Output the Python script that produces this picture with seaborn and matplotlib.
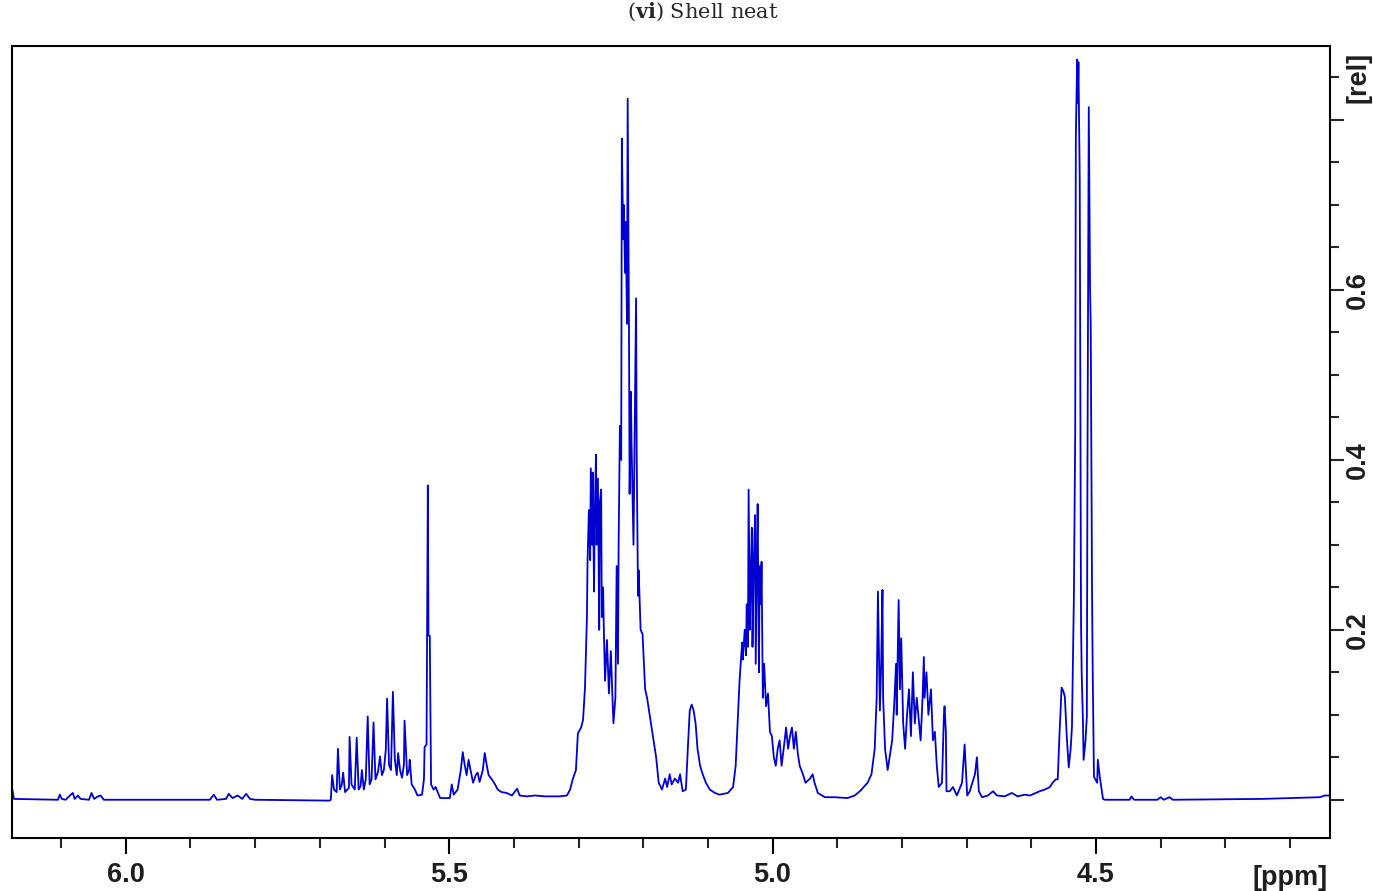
import numpy as np
import pandas as pd
import matplotlib
matplotlib.use("Agg")
import matplotlib.pyplot as plt
import seaborn as sns
from matplotlib.ticker import MultipleLocator, FixedLocator

# ---------------- data ----------------
left_ppm = [6.176, 6.173, 6.105, 6.102, 6.099, 6.093, 6.085, 6.082, 6.079, 6.074, 6.070,
            6.057, 6.053, 6.049, 6.043, 6.039, 6.034, 5.870, 5.864, 5.859, 5.845, 5.841,
            5.835, 5.827, 5.820, 5.814, 5.808, 5.800, 5.685]
left_int = [0.014, 0.001, 0.000, 0.006, 0.001, 0.000, 0.006, 0.008, 0.001, 0.005, 0.001,
            0.000, 0.008, 0.001, 0.004, 0.005, 0.000, 0.000, 0.006, 0.000, 0.001, 0.007,
            0.002, 0.005, 0.001, 0.007, 0.001, 0.000, -0.001]

olefin_ppm = [5.683, 5.681, 5.678, 5.674, 5.672, 5.669, 5.666, 5.664, 5.661, 5.655, 5.654,
              5.651, 5.646, 5.643, 5.640, 5.637, 5.635, 5.632, 5.629, 5.626, 5.623, 5.620,
              5.617, 5.614, 5.610, 5.607, 5.604, 5.601, 5.598, 5.596, 5.593, 5.590, 5.587,
              5.584, 5.581, 5.579, 5.576, 5.573, 5.570, 5.569, 5.565, 5.562, 5.561, 5.558,
              5.553, 5.549, 5.542, 5.539, 5.538, 5.535, 5.533, 5.532, 5.530, 5.528, 5.524,
              5.521, 5.514, 5.499]
olefin_int = [0.000, 0.029, 0.012, 0.009, 0.060, 0.012, 0.018, 0.032, 0.009, 0.014, 0.074,
              0.018, 0.012, 0.073, 0.012, 0.016, 0.035, 0.012, 0.024, 0.098, 0.018, 0.024,
              0.091, 0.024, 0.033, 0.051, 0.029, 0.035, 0.059, 0.119, 0.041, 0.035, 0.127,
              0.047, 0.029, 0.055, 0.035, 0.026, 0.041, 0.093, 0.029, 0.035, 0.047, 0.018,
              0.012, 0.005, 0.006, 0.024, 0.062, 0.065, 0.370, 0.193, 0.193, 0.018, 0.012,
              0.015, 0.002, 0.002]

mid_ppm = [5.496, 5.493, 5.487, 5.482, 5.479, 5.476, 5.473, 5.470, 5.467, 5.463, 5.459,
           5.456, 5.453, 5.448, 5.445, 5.442, 5.439, 5.434, 5.429, 5.425, 5.419, 5.411,
           5.403, 5.395, 5.391, 5.380, 5.367, 5.352, 5.329, 5.318, 5.313, 5.309]
mid_int = [0.018, 0.006, 0.012, 0.035, 0.056, 0.041, 0.029, 0.047, 0.035, 0.020, 0.029,
           0.032, 0.021, 0.035, 0.055, 0.041, 0.029, 0.024, 0.018, 0.012, 0.009, 0.008,
           0.005, 0.013, 0.005, 0.004, 0.005, 0.004, 0.004, 0.005, 0.012, 0.024]

cluster_ppm = [5.304, 5.301, 5.296, 5.293, 5.290, 5.287, 5.286, 5.284, 5.282, 5.281, 5.279,
               5.278, 5.276, 5.275, 5.273, 5.272, 5.270, 5.268, 5.267, 5.265, 5.264, 5.262,
               5.261, 5.259, 5.256, 5.253, 5.250, 5.248, 5.246, 5.243, 5.241, 5.239, 5.238,
               5.236, 5.234, 5.233, 5.231, 5.230, 5.228, 5.227, 5.225, 5.224, 5.222, 5.221,
               5.219, 5.218, 5.215, 5.211, 5.210, 5.208, 5.207, 5.204, 5.201, 5.197, 5.194,
               5.190, 5.185, 5.180, 5.176, 5.171, 5.166, 5.163, 5.159, 5.156, 5.151, 5.146,
               5.143, 5.139, 5.134, 5.131, 5.128, 5.125, 5.122, 5.119, 5.116, 5.112, 5.108,
               5.103, 5.097, 5.089, 5.082, 5.069, 5.061, 5.057]
cluster_int = [0.035, 0.078, 0.085, 0.094, 0.132, 0.215, 0.282, 0.341, 0.282, 0.390, 0.300,
               0.385, 0.245, 0.330, 0.406, 0.300, 0.378, 0.200, 0.350, 0.365, 0.215, 0.250,
               0.206, 0.140, 0.188, 0.125, 0.175, 0.130, 0.090, 0.120, 0.275, 0.160, 0.300,
               0.440, 0.400, 0.778, 0.660, 0.700, 0.620, 0.680, 0.560, 0.825, 0.560, 0.360,
               0.480, 0.420, 0.300, 0.590, 0.400, 0.240, 0.270, 0.200, 0.195, 0.130, 0.120,
               0.100, 0.075, 0.050, 0.020, 0.012, 0.025, 0.015, 0.030, 0.018, 0.025, 0.020,
               0.030, 0.010, 0.012, 0.060, 0.105, 0.112, 0.105, 0.090, 0.060, 0.040, 0.030,
               0.020, 0.012, 0.008, 0.006, 0.008, 0.015, 0.040]

glyc_ppm = [5.054, 5.051, 5.047, 5.046, 5.043, 5.041, 5.040, 5.038, 5.037, 5.035, 5.034,
            5.032, 5.031, 5.029, 5.027, 5.026, 5.024, 5.023, 5.021, 5.020, 5.018, 5.017,
            5.015, 5.013, 5.010, 5.007, 5.004, 5.001, 4.998, 4.995, 4.992, 4.989, 4.986,
            4.982, 4.979, 4.976, 4.973, 4.970, 4.967, 4.964, 4.961, 4.958, 4.953, 4.949,
            4.942, 4.938, 4.935, 4.930, 4.919, 4.904, 4.884, 4.873, 4.865, 4.859]
glyc_int = [0.090, 0.140, 0.185, 0.165, 0.200, 0.170, 0.230, 0.180, 0.365, 0.200, 0.250,
            0.320, 0.180, 0.280, 0.335, 0.160, 0.300, 0.348, 0.150, 0.275, 0.230, 0.280,
            0.120, 0.160, 0.110, 0.125, 0.080, 0.075, 0.050, 0.040, 0.060, 0.070, 0.040,
            0.065, 0.085, 0.060, 0.075, 0.085, 0.060, 0.080, 0.055, 0.040, 0.030, 0.020,
            0.025, 0.030, 0.020, 0.008, 0.003, 0.003, 0.002, 0.005, 0.010, 0.015]

ring_ppm = [4.853, 4.847, 4.842, 4.839, 4.837, 4.835, 4.834, 4.832, 4.830, 4.829, 4.826,
            4.822, 4.820, 4.815, 4.812, 4.809, 4.808, 4.805, 4.803, 4.801, 4.798, 4.795,
            4.792, 4.789, 4.786, 4.783, 4.780, 4.777, 4.774, 4.771, 4.768, 4.766, 4.765,
            4.762, 4.759, 4.755, 4.752, 4.749, 4.746, 4.743, 4.738, 4.735, 4.734, 4.732,
            4.731, 4.726, 4.721, 4.715, 4.707, 4.703, 4.699, 4.695, 4.687, 4.684, 4.681,
            4.676, 4.667, 4.659, 4.653, 4.641, 4.630, 4.621, 4.610, 4.602, 4.587, 4.579,
            4.571, 4.567, 4.562]
ring_int = [0.020, 0.030, 0.060, 0.120, 0.245, 0.150, 0.105, 0.160, 0.247, 0.120, 0.060,
            0.035, 0.045, 0.070, 0.110, 0.160, 0.100, 0.235, 0.130, 0.190, 0.090, 0.060,
            0.100, 0.130, 0.075, 0.150, 0.090, 0.120, 0.095, 0.070, 0.120, 0.168, 0.120,
            0.150, 0.100, 0.130, 0.070, 0.080, 0.040, 0.015, 0.020, 0.100, 0.110, 0.080,
            0.010, 0.010, 0.015, 0.005, 0.020, 0.065, 0.005, 0.010, 0.030, 0.050, 0.010,
            0.003, 0.005, 0.010, 0.005, 0.004, 0.008, 0.004, 0.006, 0.005, 0.010, 0.012,
            0.015, 0.020, 0.024]

doublet_ppm = [4.559, 4.556, 4.553, 4.550, 4.548, 4.545, 4.542, 4.539, 4.537, 4.534, 4.532,
               4.531, 4.529, 4.528, 4.527, 4.525, 4.523, 4.522, 4.520, 4.519, 4.516, 4.514,
               4.513, 4.511, 4.509, 4.508, 4.506, 4.505, 4.503, 4.498, 4.497, 4.494, 4.489,
               4.486]
doublet_int = [0.024, 0.082, 0.132, 0.127, 0.121, 0.074, 0.038, 0.060, 0.086, 0.240, 0.430,
               0.780, 0.871, 0.820, 0.868, 0.730, 0.212, 0.150, 0.092, 0.047, 0.070, 0.098,
               0.400, 0.815, 0.600, 0.560, 0.250, 0.157, 0.027, 0.020, 0.047, 0.027, 0.001,
               0.000]

right_ppm = [4.448, 4.445, 4.441, 4.405, 4.400, 4.395, 4.386, 4.381, 4.243, 4.200, 4.154,
             4.146, 4.138]
right_int = [0.000, 0.004, 0.000, 0.000, 0.003, 0.000, 0.003, 0.000, 0.001, 0.002, 0.003,
             0.005, 0.005]

x_major = [6.0, 5.5, 5.0, 4.5]
x_major_labels = ["6.0", "5.5", "5.0", "4.5"]
y_major = [0.0, 0.2, 0.4, 0.6, 0.8]
y_major_labels = ["", "0.2", "0.4", "0.6", ""]

# ---------------- build table ----------------
ppm = left_ppm + olefin_ppm + mid_ppm + cluster_ppm + glyc_ppm + ring_ppm + doublet_ppm + right_ppm
inten = left_int + olefin_int + mid_int + cluster_int + glyc_int + ring_int + doublet_int + right_int
df = pd.DataFrame({"ppm": ppm, "intensity": inten})

# ---------------- style ----------------
sns.set_style("white")
plt.rcParams["font.family"] = ["Liberation Sans", "DejaVu Sans"]
plt.rcParams["mathtext.fontset"] = "custom"
plt.rcParams["mathtext.rm"] = "DejaVu Serif"
plt.rcParams["mathtext.bf"] = "DejaVu Serif:bold"

LABEL_COLOR = "#1e1e1e"
LABEL_SIZE = 19.5

fig = plt.figure(figsize=(13.73, 8.91), dpi=100)
ax = fig.add_axes([12 / 1373, 1 - 838 / 891, (1330 - 12) / 1373, (838 - 46) / 891])

sns.lineplot(data=df, x="ppm", y="intensity", sort=False, estimator=None,
             color="#0000d0", linewidth=1.3, ax=ax)

ax.set_xlim(6.176, 4.138)
ax.set_ylim(-0.045, 0.887)

for s in ax.spines.values():
    s.set_color("black")
    s.set_linewidth(1.5)
    s.set_visible(True)

# x ticks
ax.xaxis.set_major_locator(FixedLocator(x_major))
ax.set_xticklabels(x_major_labels)
ax.xaxis.set_minor_locator(MultipleLocator(0.1))
ax.tick_params(axis="x", which="major", direction="out", length=11.5, width=1.5,
               labelsize=LABEL_SIZE, pad=6, bottom=True, colors="black")
ax.tick_params(axis="x", which="minor", direction="out", length=7, width=1.5, bottom=True)
for lab in ax.get_xticklabels():
    lab.set_fontweight("bold")
    lab.set_color(LABEL_COLOR)

# y ticks on the right
ax.yaxis.tick_right()
ax.yaxis.set_major_locator(FixedLocator(y_major))
ax.set_yticklabels(y_major_labels)
ax.yaxis.set_minor_locator(MultipleLocator(0.05))
ax.tick_params(axis="y", which="major", direction="out", length=10, width=1.5,
               labelsize=LABEL_SIZE, pad=0.5, right=True, left=False)
ax.tick_params(axis="y", which="minor", direction="out", length=6.5, width=1.5,
               right=True, left=False)
for lab in ax.get_yticklabels():
    lab.set_rotation(90)
    lab.set_va("center")
    lab.set_fontweight("bold")
    lab.set_color(LABEL_COLOR)

ax.set_xlabel("")
ax.set_ylabel("")

# unit labels in place of tick labels
ax.text(4.2, -0.034, "[ppm]", transform=ax.get_xaxis_transform(), ha="center", va="top",
        fontsize=LABEL_SIZE, fontweight="bold", color=LABEL_COLOR)
ax.text(1.0115, 0.85, "[rel]", transform=ax.get_yaxis_transform(), ha="left", va="center",
        rotation=90, fontsize=LABEL_SIZE, fontweight="bold", color=LABEL_COLOR)

fig.text(0.512, 1 - 12 / 891, r"($\mathbf{vi}$) Shell neat", ha="center", va="center",
         fontsize=15, family="DejaVu Serif")

fig.savefig("out.png", dpi=100, facecolor="white")
